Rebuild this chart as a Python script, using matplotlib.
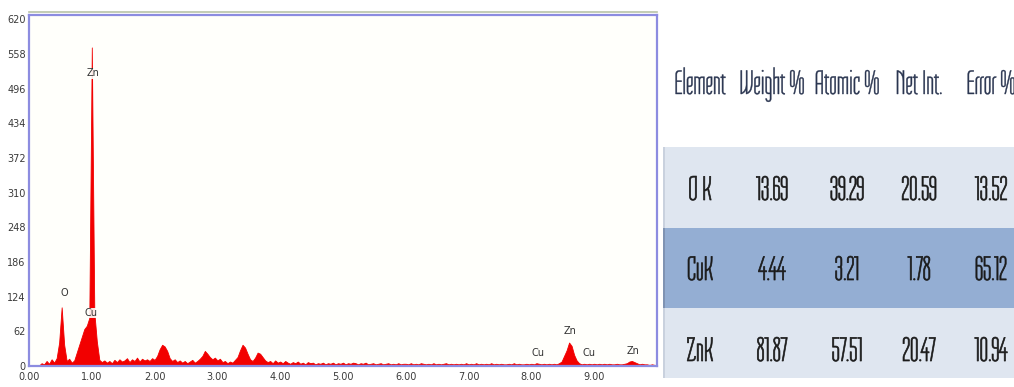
import numpy as np
import matplotlib
matplotlib.use("Agg")
import matplotlib.pyplot as plt
from matplotlib.patches import Rectangle
from matplotlib.patheffects import AbstractPathEffect
from matplotlib.transforms import Affine2D
from matplotlib.lines import Line2D

# ---------------- EDS spectrum (counts per 0.04 keV channel) ----------------
channel_width = 0.04
counts = [
    # 0.00 - 0.96 keV
    0, 0, 0, 0, 1, 5, 3, 9, 4, 12, 6, 14, 42, 105, 38, 9, 13, 6, 10, 24, 38, 52, 66, 72, 86,
    # 1.00 - 1.96 keV
    570, 96, 44, 11, 7, 10, 6, 9, 5, 11, 7, 12, 8, 10, 14, 7, 12, 9, 15, 8, 13, 10, 12, 9, 14,
    # 2.00 - 2.96 keV
    11, 18, 30, 38, 35, 27, 14, 9, 12, 7, 10, 6, 9, 5, 8, 11, 6, 9, 13, 18, 27, 22, 16, 12, 15,
    # 3.00 - 3.96 keV
    10, 13, 7, 9, 5, 8, 6, 11, 16, 28, 38, 33, 22, 12, 9, 15, 24, 22, 16, 10, 7, 9, 5, 10, 6,
    # 4.00 - 4.96 keV
    8, 5, 9, 6, 4, 7, 5, 8, 4, 6, 3, 7, 5, 6, 3, 5, 4, 6, 3, 5, 4, 6, 3, 5, 4,
    # 5.00 - 5.96 keV
    6, 3, 5, 4, 6, 5, 3, 5, 4, 6, 3, 4, 5, 3, 4, 5, 3, 4, 5, 3, 4, 3, 5, 3, 4,
    # 6.00 - 6.96 keV
    4, 3, 5, 3, 4, 3, 5, 4, 3, 4, 3, 5, 3, 4, 3, 4, 5, 3, 4, 3, 4, 3, 4, 3, 5,
    # 7.00 - 7.96 keV
    3, 4, 3, 5, 3, 4, 3, 4, 3, 5, 3, 4, 3, 4, 3, 3, 4, 3, 5, 3, 4, 3, 3, 4, 3,
    # 8.00 - 8.96 keV
    4, 3, 5, 4, 3, 4, 3, 4, 3, 4, 3, 5, 8, 18, 28, 42, 36, 20, 10, 5, 3, 4, 3, 4, 3,
    # 9.00 - 9.96 keV
    4, 3, 4, 3, 4, 3, 4, 3, 3, 4, 3, 3, 4, 5, 8, 9, 7, 5, 3, 4, 3, 3, 2, 3, 2,
]
energy = np.arange(len(counts)) * channel_width

# peak labels: element, energy (keV), label height (counts)
peak_names = ["O", "Cu", "Zn", "Cu", "Zn", "Cu", "Zn"]
peak_energy = [0.57, 0.98, 1.02, 8.10, 8.61, 8.92, 9.62]
peak_height = [131, 95, 524, 24, 63, 24, 27]

y_ticks = [0, 62, 124, 186, 248, 310, 372, 434, 496, 558, 620]
x_ticks = [0, 1, 2, 3, 4, 5, 6, 7, 8, 9]

# ---------------- quantification table ----------------
table_header = ["Element", "Weight %", "Atomic %", "Net Int.", "Error %"]
elements = ["O K", "CuK", "ZnK"]
weight_pct = ["13.69", "4.44", "81.87"]
atomic_pct = ["39.29", "3.21", "57.51"]
net_int = ["20.59", "1.78", "20.47"]
error_pct = ["13.52", "65.12", "10.94"]


class CondensedInk(AbstractPathEffect):
    """Squeeze glyphs horizontally about the text anchor and embolden them slightly."""

    def __init__(self, sx, text, stroke=0.0):
        super().__init__()
        self.sx = sx
        self.text = text
        self.stroke = stroke

    def draw_path(self, renderer, gc, tpath, affine, rgbFace=None):
        cx = self.text.get_transform().transform(self.text.get_position())[0]
        t = affine + Affine2D().translate(-cx, 0).scale(self.sx, 1).translate(cx, 0)
        if self.stroke > 0 and rgbFace is not None:
            g = renderer.new_gc()
            g.copy_properties(gc)
            g.set_linewidth(self.stroke)
            g.set_foreground(rgbFace)
            renderer.draw_path(g, tpath, t, rgbFace)
            g.restore()
        else:
            renderer.draw_path(gc, tpath, t, rgbFace)


W, H = 1014, 387
fig = plt.figure(figsize=(W / 100, H / 100), dpi=100)
fig.patch.set_facecolor("white")

# spectrum axes
ax = fig.add_axes([29 / W, 1 - 366 / H, (657 - 29) / W, (366 - 15) / H])
ax.set_facecolor("#fffffb")
ax.fill_between(energy, counts, 0, color="#f20000", linewidth=0.6, edgecolor="#f20000")
ax.set_xlim(0, 10)
ax.set_ylim(0, 628)
ax.set_yticks(y_ticks)
ax.set_yticklabels([str(v) for v in y_ticks])
ax.set_xticks(x_ticks)
ax.set_xticklabels([f"{v:.2f}" for v in x_ticks])
ax.tick_params(length=0, labelsize=7, labelcolor="#3a3a3a")
ax.tick_params(axis="y", pad=2.5)
ax.tick_params(axis="x", pad=4.5)
for sp in ax.spines.values():
    sp.set_color("#8c8ce0")
    sp.set_linewidth(1.6)
ax.add_line(Line2D([0, 1], [1.008, 1.008], transform=ax.transAxes,
                   color="#b9c4a8", linewidth=1.2, clip_on=False))

for name, e, h in zip(peak_names, peak_energy, peak_height):
    ax.text(e, h, name, ha="center", va="center", fontsize=7, color="#333333",
            bbox=dict(facecolor="#fffffb", edgecolor="none", pad=0.3, alpha=0.9))

# table drawn in pixel coordinates
tx = fig.add_axes([663 / W, 0, (W - 663) / W, 1])
tx.set_xlim(663, W)
tx.set_ylim(H, 0)
tx.axis("off")

row_edges = [147, 228, 308, 378]
row_colors = ["#dfe6f0", "#94aed3", "#dfe6f0"]
for i, c in enumerate(row_colors):
    tx.add_patch(Rectangle((663, row_edges[i]), W - 663, row_edges[i + 1] - row_edges[i],
                           facecolor=c, edgecolor="none"))
tx.add_patch(Rectangle((663, 147), 2.5, 231, facecolor="#c9d1de", edgecolor="none"))
tx.add_patch(Rectangle((663, 228), 2.5, 80, facecolor="#7f93b3", edgecolor="none"))

col_x = [700, 772, 847, 919, 991]
narrow = ["Tulpen One", "Pathway Gothic One", "DejaVu Sans"]


def cond_text(x, y, s, color, size, sx, stroke):
    t = tx.text(x, y, s, ha="center", va="baseline", fontsize=size, color=color,
                family=narrow, clip_on=False)
    t.set_path_effects([CondensedInk(sx, t, stroke)])
    return t


for x, s in zip(col_x, table_header):
    cond_text(x, 94, s, "#2a3550", 25, 0.95, 0.3)

row_base = [200, 280, 361]
columns = [elements, weight_pct, atomic_pct, net_int, error_pct]
for j, col in enumerate(columns):
    for i, s in enumerate(col):
        cond_text(col_x[j], row_base[i], s, "#1a1a1a", 25, 0.95, 0.5)

fig.savefig("out.png", dpi=100, facecolor="white")
